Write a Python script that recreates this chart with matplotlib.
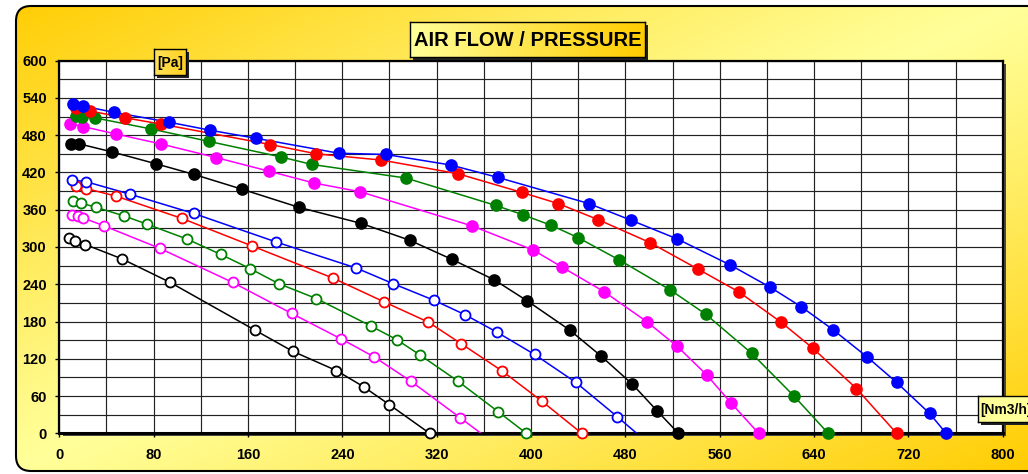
import numpy as np
import matplotlib
matplotlib.use("Agg")
import matplotlib.pyplot as plt
from matplotlib.patches import FancyBboxPatch, Rectangle
from matplotlib.colors import to_rgb

plt.rcParams["font.family"] = ["Liberation Sans", "DejaVu Sans"]

W, H = 1028, 474

# --- data: flow [Nm3/h] / pressure [Pa] ---
q_blue_f = [12, 20, 46, 93, 128, 167, 237, 277, 332, 372, 449, 485, 524, 569, 603, 629, 656, 685, 710, 738, 752]
p_blue_f = [530, 527, 517, 501, 488, 475, 451, 449, 432, 412, 370, 343, 313, 271, 235, 204, 167, 123, 82, 32, 0]

q_red_f = [14, 26, 56, 86, 179, 218, 273, 338, 392, 423, 457, 501, 542, 576, 612, 639, 676, 710]
p_red_f = [524, 519, 508, 498, 465, 450, 440, 418, 388, 370, 344, 307, 264, 228, 179, 137, 72, 0]

q_green_f = [14, 19, 30, 78, 127, 188, 214, 294, 370, 393, 417, 440, 475, 518, 548, 587, 623, 652]
p_green_f = [511, 510, 508, 490, 470, 445, 433, 411, 367, 352, 335, 315, 279, 231, 192, 129, 60, 0]

q_mag_f = [9, 20, 48, 86, 133, 178, 216, 255, 350, 402, 426, 462, 498, 524, 549, 570, 593]
p_mag_f = [498, 494, 482, 466, 444, 422, 403, 389, 334, 295, 268, 228, 180, 140, 94, 48, 0]

q_black_f = [10, 17, 45, 82, 114, 155, 203, 256, 297, 333, 369, 397, 433, 459, 486, 507, 525]
p_black_f = [466, 466, 453, 434, 417, 393, 364, 338, 311, 280, 247, 213, 166, 125, 79, 36, 0]

q_blue_o = [11, 23, 60, 114, 184, 252, 283, 318, 344, 371, 403, 438, 473, 505]
p_blue_o = [408, 405, 385, 354, 308, 266, 241, 214, 191, 163, 127, 82, 27, -25]

q_red_o = [14, 23, 48, 104, 163, 232, 275, 313, 341, 375, 409, 443]
p_red_o = [398, 394, 382, 346, 302, 250, 212, 179, 144, 101, 52, 0]

q_green_o = [12, 18, 31, 55, 74, 108, 137, 162, 186, 218, 264, 286, 306, 338, 372, 396]
p_green_o = [374, 371, 364, 350, 337, 313, 288, 265, 241, 217, 173, 151, 126, 84, 35, 0]

q_mag_o = [11, 16, 20, 38, 85, 147, 197, 239, 267, 298, 340, 375]
p_mag_o = [351, 350, 347, 334, 298, 243, 193, 152, 123, 84, 25, -25]

q_black_o = [8, 13, 22, 53, 94, 166, 198, 235, 258, 280, 314]
p_black_o = [315, 310, 304, 281, 243, 166, 132, 101, 75, 46, 0]

series = [
    (q_black_o, p_black_o, "#000000", False),
    (q_mag_o, p_mag_o, "#FF00FF", False),
    (q_green_o, p_green_o, "#008000", False),
    (q_red_o, p_red_o, "#FF0000", False),
    (q_blue_o, p_blue_o, "#0000FF", False),
    (q_black_f, p_black_f, "#000000", True),
    (q_mag_f, p_mag_f, "#FF00FF", True),
    (q_green_f, p_green_f, "#008000", True),
    (q_red_f, p_red_f, "#FF0000", True),
    (q_blue_f, p_blue_f, "#0000FF", True),
]


def fbox(x0, y0, x1, y1):
    """pixel box (top-left origin) -> figure fraction rect"""
    return [x0 / W, 1 - y1 / H, (x1 - x0) / W, (y1 - y0) / H]


fig = plt.figure(figsize=(W / 100, H / 100), dpi=100)
fig.patch.set_facecolor("white")

# background: rounded frame with diagonal gold/pale gradient
bg = fig.add_axes([0, 0, 1, 1], zorder=-10)
yy, xx = np.mgrid[0:H, 0:W]
t = (xx / W + yy / H) / 2
s = np.clip(np.abs(t - 0.5) * 2, 0, 1) ** 1.1
gold = np.array(to_rgb("#FFCC00"))
pale = np.array(to_rgb("#FFFF99"))
img = pale + (gold - pale) * s[..., None]
im = bg.imshow(img, extent=(0, W, H, 0), interpolation="bilinear", aspect="auto")
frame = FancyBboxPatch((16, 6), W + 40, 465, boxstyle="round,pad=0,rounding_size=15",
                       fc="none", ec="black", lw=1.5)
bg.add_patch(frame)
im.set_clip_path(frame)
bg.add_patch(Rectangle((62.5, 63.5), 943.4, 372.6, fc="#4a4a4a", ec="none"))
bg.set_xlim(0, W)
bg.set_ylim(H, 0)
bg.axis("off")

# main plot
ax = fig.add_axes(fbox(59.3, 60.7, 1002.7, 433.3))
ax.set_facecolor("white")
for q, p, c, filled in series:
    q = np.asarray(q)
    p = np.asarray(p)
    ax.plot(q, p, color=c, lw=1.1, zorder=3)
    keep = p >= 0
    ax.plot(q[keep], p[keep], ls="none", marker="o",
            ms=7.8 if filled else 7.2, mfc=c if filled else "white",
            mec=c, mew=1.3, zorder=4, clip_on=False)

ax.set_xlim(0, 800)
ax.set_ylim(0, 600)
ax.set_xticks(np.arange(0, 801, 80))
ax.set_xticks(np.arange(0, 801, 40), minor=True)
ax.set_yticks(np.arange(0, 601, 60))
ax.set_yticks(np.arange(0, 601, 30), minor=True)
ax.grid(which="both", color="#222222", lw=0.85)
ax.set_axisbelow(True)
ax.tick_params(which="major", length=3, width=1, direction="out", labelsize=10.5)
ax.tick_params(axis="x", pad=7.5)
ax.tick_params(axis="y", pad=6)
ax.tick_params(which="minor", length=0)
for lab in ax.get_xticklabels() + ax.get_yticklabels():
    lab.set_fontweight("bold")
for side in ["top", "right", "left"]:
    ax.spines[side].set_linewidth(1.6)
ax.spines["bottom"].set_linewidth(2.2)


def label_box(x0, y0, x1, y1, text, c0, c1, fs, tx=None, ha="center"):
    fig.patches.append(Rectangle(((x0 + 3) / W, 1 - (y1 + 3) / H), (x1 - x0) / W, (y1 - y0) / H,
                                 transform=fig.transFigure, fc="#222222", ec="none", zorder=5))
    bx = fig.add_axes(fbox(x0, y0, x1, y1), zorder=6)
    g = np.linspace(0, 1, 128)[None, :, None]
    grad = np.array(to_rgb(c0)) + (np.array(to_rgb(c1)) - np.array(to_rgb(c0))) * g
    bx.imshow(np.repeat(grad, 2, axis=0), extent=(0, 1, 0, 1), aspect="auto", interpolation="bilinear")
    bx.set_xticks([])
    bx.set_yticks([])
    for sp in bx.spines.values():
        sp.set_linewidth(1.0)
        sp.set_color("black")
    xpos = 0.5 if tx is None else tx
    bx.text(xpos, 0.47, text, ha=ha, va="center", fontsize=fs, fontweight="bold",
            transform=bx.transAxes, clip_on=False)
    return bx


label_box(410, 22, 645, 57, "AIR FLOW / PRESSURE", "#FFFF99", "#FFCC00", 14.5)
label_box(154, 49, 186, 75, "[Pa]", "#FFE25A", "#FFD020", 10)
label_box(978, 396, 1040, 422, "[Nm3/h]", "#FFFF99", "#FFFF99", 10, tx=0.04, ha="left")

fig.savefig("out.png", dpi=100)
